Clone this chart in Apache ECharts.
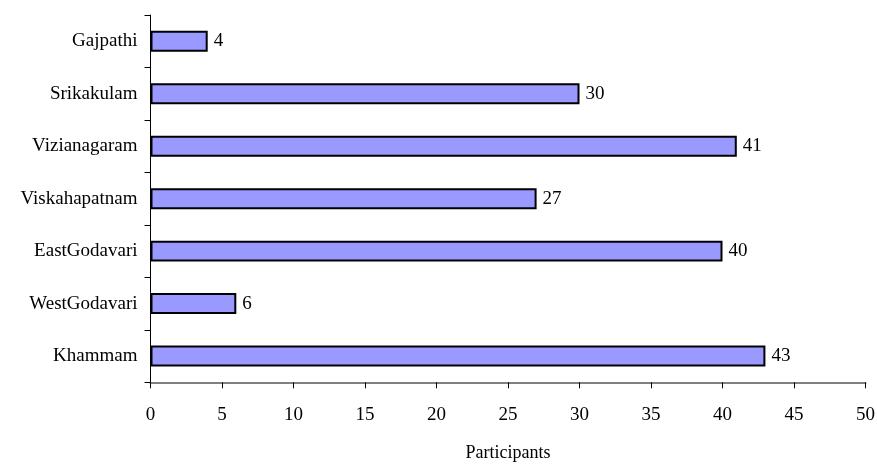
<!DOCTYPE html>
<html>
<head>
<meta charset="utf-8">
<script src="https://cdn.jsdelivr.net/npm/echarts@6/dist/echarts.min.js"></script>
<style>
  html, body { margin: 0; padding: 0; background: #ffffff; }
  #chart { width: 877px; height: 468px; }
</style>
</head>
<body>
<div id="chart"></div>
<script>
// Districts, listed bottom to top as they appear on the category axis
const districts = ['Khammam', 'WestGodavari', 'EastGodavari', 'Viskahapatnam', 'Vizianagaram', 'Srikakulam', 'Gajpathi'];
// Number of participants per district
const participants = [43, 6, 40, 27, 41, 30, 4];
// Value axis ticks
const axisMin = 0;
const axisMax = 50;
const axisStep = 5;
const axisTitle = 'Participants';

const FONT = '"Liberation Serif", "Times New Roman", serif';
const SIZE = 19;
const chart = echarts.init(document.getElementById('chart'), null, { renderer: 'canvas' });

chart.setOption({
  animation: false,
  backgroundColor: '#ffffff',
  grid: {
    left: 150.5, right: 11.5, top: 15, bottom: 85.7,
    containLabel: false,
    outerBoundsMode: 'none'
  },
  xAxis: {
    type: 'value',
    min: axisMin,
    max: axisMax,
    interval: axisStep,
    name: axisTitle,
    nameLocation: 'middle',
    nameGap: 62,
    nameTextStyle: { fontFamily: FONT, fontSize: 18, color: '#000' },
    axisLine: { show: true, lineStyle: { color: '#808080', width: 2 } },
    axisTick: { show: true, length: 6, lineStyle: { color: '#000', width: 1 } },
    axisLabel: { fontFamily: FONT, fontSize: SIZE, color: '#000', margin: 23 },
    splitLine: { show: false }
  },
  yAxis: {
    type: 'category',
    data: districts,
    axisLine: { show: true, lineStyle: { color: '#000', width: 1 } },
    axisTick: { show: true, length: 6, lineStyle: { color: '#000', width: 1 } },
    axisLabel: { fontFamily: FONT, fontSize: SIZE, color: '#000', margin: 13 },
    splitLine: { show: false }
  },
  series: [{
    type: 'bar',
    data: participants,
    barWidth: '40%',
    itemStyle: { color: '#9999ff', borderColor: '#000', borderWidth: 2 },
    label: {
      show: true,
      position: 'right',
      distance: 6,
      fontFamily: FONT,
      fontSize: SIZE,
      color: '#000'
    }
  }]
});
</script>
</body>
</html>
